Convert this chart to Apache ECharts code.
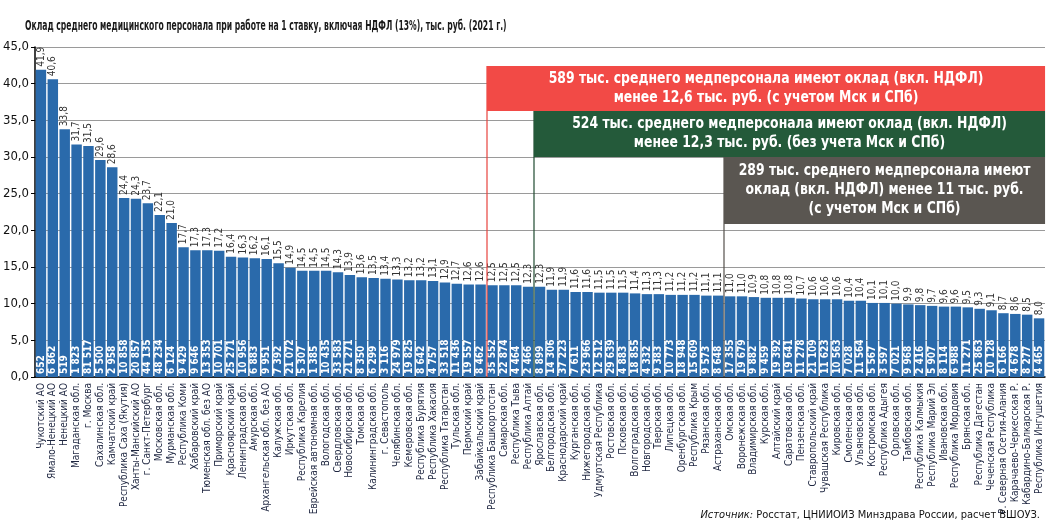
<!DOCTYPE html>
<html><head><meta charset="utf-8">
<script src="https://cdn.jsdelivr.net/npm/echarts@6/dist/echarts.min.js"></script>
<style>html,body{margin:0;padding:0;background:#fff}#c{width:1048px;height:524px}</style>
</head><body><div id="c"></div>
<script>
const regions = ['Чукотский АО','Ямало-Ненецкий АО','Ненецкий АО','Магаданская обл.','г. Москва','Сахалинская обл.','Камчатский край','Республика Саха (Якутия)','Ханты-Мансийский АО','г. Санкт-Петербург','Московская обл.','Мурманская обл.','Республика Коми','Хабаровский край','Тюменская обл. без АО','Приморский край','Красноярский край','Ленинградская обл.','Амурская обл.','Архангельская обл. без АО','Калужская обл.','Иркутская обл.','Республика Карелия','Еврейская автономная обл.','Вологодская обл.','Свердловская обл.','Новосибирская обл.','Томская обл.','Калининградская обл.','г. Севастополь','Челябинская обл.','Кемеровская обл.','Республика Бурятия','Республика Хакасия','Республика Татарстан','Тульская обл.','Пермский край','Забайкальский край','Республика Башкортостан','Самарская обл.','Республика Тыва','Республика Алтай','Ярославская обл.','Белгородская обл.','Краснодарский край','Курганская обл.','Нижегородская обл.','Удмуртская Республика','Ростовская обл.','Псковская обл.','Волгоградская обл.','Новгородская обл.','Тверская обл.','Липецкая обл.','Оренбургская обл.','Республика Крым','Рязанская обл.','Астраханская обл.','Омская обл.','Воронежская обл.','Владимирская обл.','Курская обл.','Алтайский край','Саратовская обл.','Пензенская обл.','Ставропольский край','Чувашская Республика','Кировская обл.','Смоленская обл.','Ульяновская обл.','Костромская обл.','Республика Адыгея','Орловская обл.','Тамбовская обл.','Республика Калмыкия','Республика Марий Эл','Ивановская обл.','Республика Мордовия','Брянская обл.','Республика Дагестан','Чеченская Республика','Р. Северная Осетия-Алания','Карачаево-Черкесская Р.','Кабардино-Балкарская Р.','Республика Ингушетия'];
const salary = [41.9,40.6,33.8,31.7,31.5,29.6,28.6,24.4,24.3,23.7,22.1,21.0,17.7,17.3,17.3,17.2,16.4,16.3,16.2,16.1,15.5,14.9,14.5,14.5,14.5,14.3,13.9,13.6,13.5,13.4,13.3,13.2,13.2,13.1,12.9,12.7,12.6,12.6,12.5,12.5,12.5,12.3,12.3,11.9,11.9,11.6,11.6,11.5,11.5,11.5,11.4,11.3,11.3,11.2,11.2,11.2,11.1,11.1,11.0,11.0,10.9,10.8,10.8,10.8,10.7,10.6,10.6,10.6,10.4,10.4,10.1,10.1,10.0,9.9,9.8,9.7,9.6,9.6,9.5,9.3,9.1,8.7,8.6,8.5,8.0];
const staff = [652,6862,519,1823,81517,5500,2958,10858,20857,44135,48234,6124,9429,9646,13353,10701,25271,10956,6883,9951,7392,21072,5307,1385,10435,33583,21271,8350,6299,3116,24979,19825,8642,4757,33518,11436,19557,8462,35552,22874,4464,2466,8899,14306,37223,7611,23966,12512,29639,4883,18855,4332,9383,10773,18948,15609,9573,8648,17355,19679,9882,9459,19392,19641,11278,21109,11623,10563,7028,11564,5567,3597,7021,9968,2416,5907,8114,6988,11271,25863,10128,6166,4678,8277,4465];
const yMin = 0, yMax = 45, yStep = 5;
const titleText = 'Оклад среднего медицинского персонала при работе на 1 ставку, включая НДФЛ (13%), тыс. руб. (2021 г.)';
const sourceItalic = 'Источник:';
const sourceText = ' Росстат, ЦНИИОИЗ Минздрава России, расчет ВШОУЗ.';
const notes = [
  {from:'Республика Башкортостан', text:'589 тыс. среднего медперсонала имеют оклад (вкл. НДФЛ)\nменее 12,6 тыс. руб. (с учетом Мск и СПб)', color:'#f24a46', line:'#e8423d', top:66, h:45},
  {from:'Ярославская обл.', text:'524 тыс. среднего медперсонала имеют оклад (вкл. НДФЛ)\nменее 12,3 тыс. руб. (без учета Мск и СПб)', color:'#245a3a', line:'#1f4a30', top:111, h:46},
  {from:'Омская обл.', text:'289 тыс. среднего медперсонала имеют\nоклад (вкл. НДФЛ) менее 11 тыс. руб.\n(с учетом Мск и СПб)', color:'#5a5651', line:'#55514c', top:157, h:67}
];

const F = '"DejaVu Sans Condensed","Liberation Sans Narrow",sans-serif';
const fmtComma = v => v.toFixed(1).replace('.', ',');
const fmtThousands = n => String(n).replace(/\B(?=(\d{3})+(?!\d))/g, ' ');

const chart = echarts.init(document.getElementById('c'), null, {renderer:'canvas'});
const option = {
  animation:false,
  backgroundColor:'#fff',
  grid:{left:35, right:3, top:47, bottom:147, outerBoundsMode:'none', containLabel:false},
  xAxis:{type:'category', data:regions, boundaryGap:true,
    axisLine:{lineStyle:{color:'#000', width:1.5}}, axisTick:{show:false},
    axisLabel:{rotate:90, interval:0, fontFamily:F, fontSize:10, color:'#1e2640', margin:6}},
  yAxis:{type:'value', min:yMin, max:yMax, interval:yStep,
    axisLine:{show:true, lineStyle:{color:'#000', width:1.5}},
    axisTick:{show:true, length:4, lineStyle:{color:'#000'}},
    axisLabel:{fontFamily:F, fontSize:13, color:'#111', margin:6, formatter:v=>fmtComma(v)},
    splitLine:{lineStyle:{color:'#9a9a9a', width:1}}},
  series:[
    {type:'bar', data:salary, barCategoryGap:'12%', itemStyle:{color:'#2a6aab'},
     label:{show:true, position:'insideBottom', rotate:90, align:'left', verticalAlign:'middle', distance:3,
       formatter:p=>fmtThousands(staff[p.dataIndex]), color:'#fff', fontWeight:'bold', fontFamily:F, fontSize:10}},
    {type:'bar', data:salary, barGap:'-100%', barCategoryGap:'12%', silent:true, itemStyle:{color:'rgba(0,0,0,0)'},
     label:{show:true, position:'top', rotate:90, align:'left', verticalAlign:'middle', distance:3,
       formatter:p=>fmtComma(p.value), color:'#333', fontFamily:F, fontSize:10}}
  ]
};
chart.setOption(option);

function edgeX(name){
  const i = regions.indexOf(name);
  const a = chart.convertToPixel({xAxisIndex:0}, regions[i-1]);
  const b = chart.convertToPixel({xAxisIndex:0}, regions[i]);
  return (a+b)/2;
}
const right = chart.convertToPixel({xAxisIndex:0}, regions[regions.length-1]) + 6;
const bottomY = chart.convertToPixel({yAxisIndex:0}, 0);
const g = [];
g.push({type:'text', x:25, y:26, scaleX:0.63, style:{text:titleText, font:'bold 13.5px '+F, fill:'#1a1a1a', verticalAlign:'middle', align:'left'}, z:12});
notes.forEach(n=>{
  const x = Math.round(edgeX(n.from));
  g.push({type:'line', shape:{x1:x, y1:n.top, x2:x, y2:bottomY}, style:{stroke:n.line, lineWidth:1.2}, z:10});
});
notes.forEach(n=>{
  const x = Math.round(edgeX(n.from));
  g.push({type:'rect', shape:{x:x, y:n.top, width:right-x, height:n.h}, style:{fill:n.color}, z:11});
  g.push({type:'text', x:(x+right)/2, y:n.top+n.h/2, scaleX:0.92, style:{text:n.text, fill:'#fff', font:'bold 15px '+F, align:'center', verticalAlign:'middle', lineHeight:19}, z:12});
});
g.push({type:'text', right:8, bottom:3, style:{rich:{i:{fontStyle:'italic', fontFamily:F, fontSize:11, fill:'#111'}, n:{fontFamily:F, fontSize:11, fill:'#111'}}, text:'{i|'+sourceItalic+'}{n|'+sourceText+'}'}, z:12});
chart.setOption({graphic:g});
</script></body></html>
